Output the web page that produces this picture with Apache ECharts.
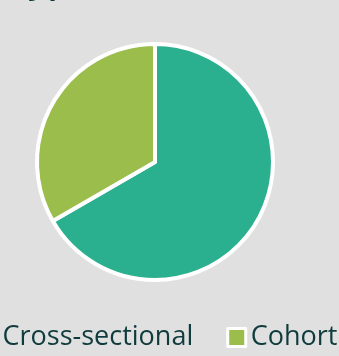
<!DOCTYPE html>
<html>
<head>
<meta charset="utf-8">
<script src="https://cdn.jsdelivr.net/npm/echarts@6/dist/echarts.min.js"></script>
<style>
html,body{margin:0;padding:0;background:#e0e0e0;}
#c{width:339px;height:356px;}
</style>
</head>
<body>
<div id="c"></div>
<script>
const categories = ["Cross-sectional", "Cohort"];
const values = [8, 4];
const colors = ["#2ab08e", "#9bbd4b"];

const chart = echarts.init(document.getElementById('c'));
chart.setOption({
  backgroundColor: '#e0e0e0',
  animation: false,
  title: {
    text: 'Type',
    left: 3,
    top: -41,
    textStyle: { fontFamily: 'Open Sans', fontSize: 36, fontWeight: 600, color: '#0f3b3d' }
  },
  legend: {
    data: categories,
    left: -27,
    top: 319,
    width: 600,
    icon: 'rect',
    itemWidth: 18,
    itemHeight: 18,
    itemGap: 33,
    itemStyle: { borderColor: '#ffffff', borderWidth: 3 },
    textStyle: { fontFamily: 'Open Sans', fontSize: 27, color: '#0f3b3d' }
  },
  series: [{
    type: 'pie',
    center: [155, 162],
    radius: 118,
    startAngle: 90,
    label: { show: false },
    labelLine: { show: false },
    itemStyle: { borderColor: '#ffffff', borderWidth: 4 },
    emphasis: { disabled: true },
    data: categories.map((c, i) => ({ name: c, value: values[i], itemStyle: { color: colors[i] } }))
  }]
});
</script>
</body>
</html>
